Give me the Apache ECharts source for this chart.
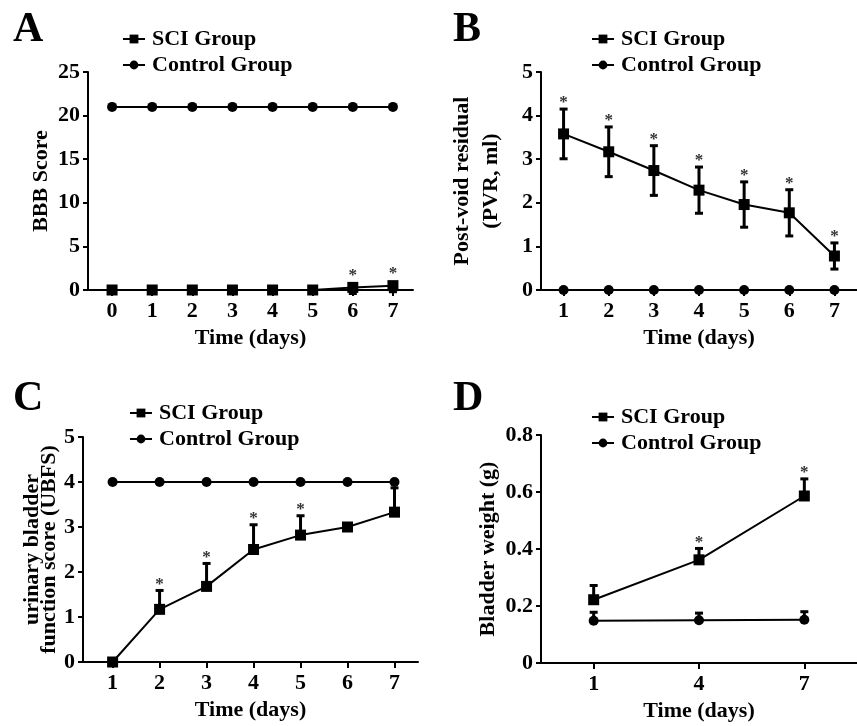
<!DOCTYPE html>
<html><head><meta charset="utf-8">
<script src="https://cdn.jsdelivr.net/npm/echarts@6/dist/echarts.min.js"></script>
<style>html,body{margin:0;padding:0;background:#fff}#c{width:857px;height:726px}</style>
</head><body><div id="c"></div>
<script>
// ---- Data ----
const seriesNames = ['SCI Group', 'Control Group'];
const daysA = [0, 1, 2, 3, 4, 5, 6, 7];
const sciA = [0, 0, 0, 0, 0, 0, 0.3, 0.5];
const sciAErr = [0, 0, 0, 0, 0, 0, 0.7, 0.7];
const ctrlA = [21, 21, 21, 21, 21, 21, 21, 21];
const starsA = [0, 0, 0, 0, 0, 0, 1, 1];

const daysB = [1, 2, 3, 4, 5, 6, 7];
const sciB = [3.58, 3.17, 2.74, 2.29, 1.96, 1.77, 0.78];
const sciBErr = [0.57, 0.57, 0.57, 0.53, 0.52, 0.53, 0.3];
const ctrlB = [0, 0, 0, 0, 0, 0, 0];
const starsB = [1, 1, 1, 1, 1, 1, 1];

const daysC = [1, 2, 3, 4, 5, 6, 7];
const sciC = [0, 1.17, 1.68, 2.5, 2.82, 3.0, 3.33];
const sciCErr = [0, 0.42, 0.51, 0.55, 0.43, 0, 0.54];
const ctrlC = [4, 4, 4, 4, 4, 4, 4];
const starsC = [0, 1, 1, 1, 1, 0, 0];

const daysD = [1, 4, 7];
const sciD = [0.222, 0.362, 0.586];
const sciDErr = [0.05, 0.04, 0.06];
const ctrlD = [0.148, 0.15, 0.152];
const ctrlDErr = [0.03, 0.025, 0.028];
const starsD = [0, 1, 1];

const yTitles = ['BBB Score', 'Post-void residual\n(PVR, ml)', 'urinary bladder\nfunction score (UBFS)', 'Bladder weight (g)'];
const xTitle = 'Time (days)';
const panelLetters = ['A', 'B', 'C', 'D'];

// ---- Styles ----
const FONT = '"Liberation Serif", "Times New Roman", serif';
const txt = { fontFamily: FONT, fontWeight: 'bold', fontSize: 22, color: '#000' };
const axisLine = { show: true, onZero: false, lineStyle: { color: '#000', width: 2 } };

const grids = [
  { left: 88, top: 72, width: 325, height: 218 },
  { left: 541, top: 72, width: 328, height: 218 },
  { left: 83, top: 437, width: 335, height: 225 },
  { left: 541, top: 435, width: 319, height: 228 }
];
const xCfg = [
  { min: -0.6, max: 7.5, ticks: daysA },
  { min: 0.5, max: 7.5, ticks: daysB },
  { min: 0.37, max: 7.5, ticks: daysC },
  { min: -0.5, max: 8.5, ticks: daysD }
];
const yCfg = [
  { min: 0, max: 25, interval: 5, gap: 32, lh: 26, fmt: v => v },
  { min: 0, max: 5, interval: 1, gap: 35, lh: 29, fmt: v => v },
  { min: 0, max: 5, interval: 1, gap: 20, lh: 17, fmt: v => v },
  { min: 0, max: 0.8, interval: 0.2, gap: 40, lh: 26, fmt: v => (v === 0 ? '0' : v.toFixed(1)) }
];
const legendPos = [
  { left: 122, top: 26 },
  { left: 591, top: 26 },
  { left: 129, top: 400 },
  { left: 591, top: 404 }
];
const letterPos = [[13, 9], [453, 9], [13, 378], [453, 378]];

const xAxes = grids.map((g, i) => ({
  type: 'value', gridIndex: i, min: xCfg[i].min, max: xCfg[i].max,
  axisLine, splitLine: { show: false },
  axisTick: { show: true, length: 6, lineStyle: { color: '#000', width: 2 }, customValues: xCfg[i].ticks },
  axisLabel: Object.assign({ margin: 10, customValues: xCfg[i].ticks }, txt),
  name: xTitle, nameLocation: 'middle', nameGap: 37, nameTextStyle: txt
}));
const yAxes = grids.map((g, i) => ({
  type: 'value', gridIndex: i, min: yCfg[i].min, max: yCfg[i].max, interval: yCfg[i].interval,
  axisLine, splitLine: { show: false },
  axisTick: { show: true, length: 5, lineStyle: { color: '#000', width: 2 } },
  axisLabel: Object.assign({ margin: 8, formatter: yCfg[i].fmt }, txt),
  name: yTitles[i], nameLocation: 'middle', nameRotate: 90, nameGap: yCfg[i].gap,
  nameTextStyle: Object.assign({ lineHeight: yCfg[i].lh, align: 'center' }, txt)
}));

function zip(xs, ys) { return xs.map((x, k) => [x, ys[k]]); }
function lineSeries(name, i, xs, ys, sym) {
  return {
    type: 'line', name, xAxisIndex: i, yAxisIndex: i, data: zip(xs, ys),
    symbol: sym, symbolSize: sym === 'rect' ? 11 : 10,
    itemStyle: { color: '#000' }, lineStyle: { color: '#000', width: 2 },
    z: 5, animation: false
  };
}
function errSeries(i, xs, ys, es, dir) {
  return {
    type: 'custom', xAxisIndex: i, yAxisIndex: i, z: 4, animation: false, silent: true,
    data: xs.map((x, k) => [x, ys[k], es[k]]),
    renderItem(params, api) {
      const x = api.value(0), m = api.value(1), e = api.value(2);
      if (!e) return null;
      const pm = api.coord([x, m]);
      const top = dir === 'down' ? pm : api.coord([x, m + e]);
      const bot = dir === 'up' ? pm : api.coord([x, m - e]);
      const st = { stroke: '#000', lineWidth: 3 };
      const ch = [{ type: 'line', shape: { x1: pm[0], y1: top[1], x2: pm[0], y2: bot[1] }, style: st }];
      if (dir !== 'down') ch.push({ type: 'line', shape: { x1: pm[0] - 4, y1: top[1], x2: pm[0] + 4, y2: top[1] }, style: st });
      if (dir !== 'up') ch.push({ type: 'line', shape: { x1: pm[0] - 4, y1: bot[1], x2: pm[0] + 4, y2: bot[1] }, style: st });
      return { type: 'group', children: ch };
    }
  };
}
function starSeries(i, xs, ys, es, stars, dir, extra) {
  return {
    type: 'custom', xAxisIndex: i, yAxisIndex: i, z: 6, animation: false, silent: true,
    data: xs.map((x, k) => [x, ys[k], dir === 'down' ? 0 : es[k], stars[k]]),
    renderItem(params, api) {
      if (!api.value(3)) return null;
      const p = api.coord([api.value(0), api.value(1) + api.value(2)]);
      return { type: 'text', style: { text: '*', x: p[0], y: p[1] - extra, align: 'center', verticalAlign: 'middle',
        font: 'bold 17px ' + FONT, fill: '#333' } };
    }
  };
}

const series = [
  lineSeries(seriesNames[0], 0, daysA, sciA, 'rect'),
  lineSeries(seriesNames[1], 0, daysA, ctrlA, 'circle'),
  errSeries(0, daysA, sciA, sciAErr, 'down'),
  starSeries(0, daysA, sciA, sciAErr, starsA, 'down', 12),

  lineSeries(seriesNames[0], 1, daysB, sciB, 'rect'),
  lineSeries(seriesNames[1], 1, daysB, ctrlB, 'circle'),
  errSeries(1, daysB, sciB, sciBErr, 'both'),
  starSeries(1, daysB, sciB, sciBErr, starsB, 'both', 6),

  lineSeries(seriesNames[0], 2, daysC, sciC, 'rect'),
  lineSeries(seriesNames[1], 2, daysC, ctrlC, 'circle'),
  errSeries(2, daysC, sciC, sciCErr, 'up'),
  starSeries(2, daysC, sciC, sciCErr, starsC, 'up', 6),

  lineSeries(seriesNames[0], 3, daysD, sciD, 'rect'),
  lineSeries(seriesNames[1], 3, daysD, ctrlD, 'circle'),
  errSeries(3, daysD, sciD, sciDErr, 'up'),
  errSeries(3, daysD, ctrlD, ctrlDErr, 'up'),
  starSeries(3, daysD, sciD, sciDErr, starsD, 'up', 6)
];

const legends = legendPos.map(p => ({
  data: seriesNames, orient: 'vertical', left: p.left, top: p.top, padding: 0,
  itemWidth: 22, itemHeight: 11, itemGap: 0, selectedMode: false,
  textStyle: Object.assign({ lineHeight: 26, padding: [0, 0, 0, 2] }, txt)
}));

const graphic = panelLetters.map((L, i) => ({
  type: 'text', left: letterPos[i][0], top: letterPos[i][1],
  style: { text: L, font: 'bold 42px ' + FONT, fill: '#000' }
}));

const chart = echarts.init(document.getElementById('c'), null, { renderer: 'canvas' });
chart.setOption({
  animation: false, backgroundColor: '#fff',
  grid: grids, xAxis: xAxes, yAxis: yAxes, legend: legends, series, graphic
});
</script></body></html>
